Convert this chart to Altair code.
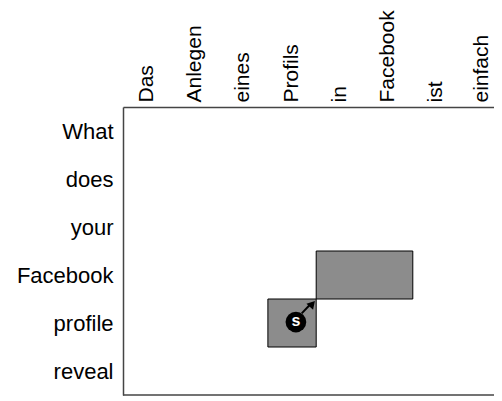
import json
import altair as alt
import pandas as pd

# Axis words
src_words = ["Das", "Anlegen", "eines", "Profils", "in", "Facebook", "ist", "einfach"]
tgt_words = ["What", "does", "your", "Facebook", "profile", "reveal"]

# Alignment blocks (row index, column start, column end)
block_row = [3, 4]
block_col_start = [4, 3]
block_col_end = [6, 4]

# Badge annotation (data units)
badge_label = ["s"]
badge_x = [3.58]
badge_y = [4.48]
arrow_x = [3.70]
arrow_y = [4.30]
arrow_x2 = [3.89]
arrow_y2 = [4.10]
head_x = [3.92]
head_y = [4.10]

W, H = 371, 288
COLW = 48.3
XMAX = W / COLW
FONT = "Liberation Sans"
FS = 22
FS_TOP = 21

blocks = pd.DataFrame({
    "x": block_col_start, "x2": block_col_end,
    "y": block_row, "y2": [r + 1 for r in block_row],
})
badge = pd.DataFrame({"x": badge_x, "y": badge_y, "t": badge_label})
arrow = pd.DataFrame({"x": arrow_x, "y": arrow_y, "x2": arrow_x2, "y2": arrow_y2})
head = pd.DataFrame({"x": head_x, "y": head_y})

xscale = alt.Scale(domain=[0, XMAX], nice=False, zero=False)
yscale = alt.Scale(domain=[0, 6], reverse=True, nice=False, zero=False)

xaxis = alt.Axis(
    orient="top", values=[i + 0.5 for i in range(len(src_words))],
    labelExpr=f"{json.dumps(src_words)}[floor(datum.value)]",
    labelAngle=-90, labelFont=FONT, labelFontSize=FS_TOP, labelColor="black",
    labelPadding=5, ticks=False, grid=False, title=None,
    labelOffset={"condition": {"test": "datum.value > 7", "value": -4}, "value": -1},
    domain=True, domainColor="#444", domainWidth=1.5, labelOverlap=False,
)
yaxis = alt.Axis(
    values=[i + 0.5 for i in range(len(tgt_words))],
    labelExpr=f"{json.dumps(tgt_words)}[floor(datum.value)]",
    labelFont=FONT, labelFontSize=FS, labelColor="black",
    labelPadding=10, ticks=False, grid=False, title=None,
    domain=True, domainColor="#444", domainWidth=1.5, labelOverlap=False,
)

rects = alt.Chart(blocks).mark_rect(fill="#8c8c8c", stroke="black", strokeWidth=1).encode(
    x=alt.X("x:Q", scale=xscale, axis=xaxis),
    x2="x2:Q",
    y=alt.Y("y:Q", scale=yscale, axis=yaxis),
    y2="y2:Q",
)

bottom = alt.Chart(pd.DataFrame({"a": [0]})).mark_rule(color="#444", strokeWidth=1.5).encode(
    x=alt.datum(0, scale=xscale), x2=alt.datum(XMAX), y=alt.datum(6, scale=yscale),
)

line = alt.Chart(arrow).mark_rule(color="black", strokeWidth=2).encode(
    x=alt.X("x:Q", scale=xscale), x2="x2:Q",
    y=alt.Y("y:Q", scale=yscale), y2="y2:Q",
)
arrowhead = alt.Chart(head).mark_point(
    shape="triangle-up", filled=True, color="black", size=80, angle=42, opacity=1,
).encode(x=alt.X("x:Q", scale=xscale), y=alt.Y("y:Q", scale=yscale))

dot = alt.Chart(badge).mark_circle(color="black", size=430, opacity=1).encode(
    x=alt.X("x:Q", scale=xscale), y=alt.Y("y:Q", scale=yscale),
)
letter = alt.Chart(badge).mark_text(
    color="white", font=FONT, fontSize=16, fontWeight="bold", baseline="middle", align="center", dy=-1,
).encode(x=alt.X("x:Q", scale=xscale), y=alt.Y("y:Q", scale=yscale), text="t:N")

chart = alt.layer(rects, bottom, line, arrowhead, dot, letter).properties(
    width=W, height=H,
    padding={"left": 115, "top": 99, "right": 0, "bottom": 1},
    autosize=alt.AutoSizeParams(type="none"),
).configure_view(stroke=None)

chart.save("out.html", embed_options={"renderer": "svg", "actions": False})
